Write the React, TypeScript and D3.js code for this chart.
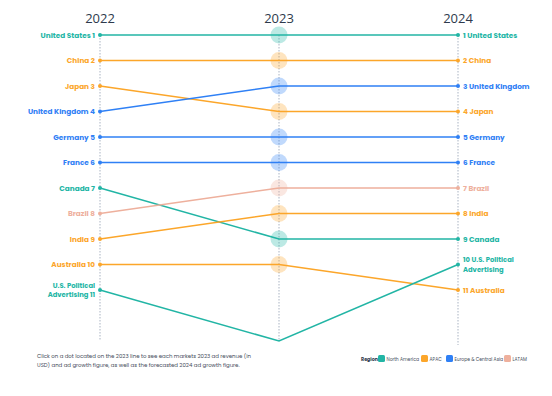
import React from "react";
import * as d3 from "d3";

const years = ["2022", "2023", "2024"];
const markets = ["United States", "China", "Japan", "United Kingdom", "Germany", "France", "Canada", "Brazil", "India", "Australia", "U.S. Political Advertising"];
const regionOf = ["North America", "APAC", "APAC", "Europe & Central Asia", "Europe & Central Asia", "Europe & Central Asia", "North America", "LATAM", "APAC", "APAC", "North America"];
const rank2022 = [1, 2, 3, 4, 5, 6, 7, 8, 9, 10, 11];
const rank2023 = [1, 2, 4, 3, 5, 6, 9, 7, 8, 10, 13];
const rank2024 = [1, 2, 4, 3, 5, 6, 9, 7, 8, 11, 10];
const regions = ["North America", "APAC", "Europe & Central Asia", "LATAM"];
const regionColors = ["#22b5a5", "#fca62a", "#2f80f5", "#eeb09d"];
const note = [
  "Click on a dot located on the 2023 line to see each markets 2023 ad revenue (in",
  "USD) and ad growth figure, as well as the forecasted 2024 ad growth figure.",
];

export default function App() {
  const W = 552, H = 396;
  const x = d3.scalePoint<string>().domain(years).range([100, 458]);
  const y = d3.scaleLinear().domain([1, 13]).range([35, 341]);
  const color = d3.scaleOrdinal<string, string>().domain(regions).range(regionColors);
  const line = d3.line<[number, number]>().x((d) => d[0]).y((d) => d[1]);
  const font = "Poppins, 'Open Sans', 'Noto Sans', sans-serif";

  const labelLeft = (i: number) => {
    const n = markets[i];
    if (n === "U.S. Political Advertising") return ["U.S. Political", "Advertising " + rank2022[i]];
    return [n + " " + rank2022[i]];
  };
  const labelRight = (i: number) => {
    const n = markets[i];
    if (n === "U.S. Political Advertising") return [rank2024[i] + " U.S. Political", "Advertising"];
    return [rank2024[i] + " " + n];
  };

  const legendX = [378, 421, 446, 504];
  const gap = 9.3;

  return (
    <svg width={W} height={H} style={{ position: "absolute", left: 0, top: 0 }} fontFamily={font}>
      <rect width={W} height={H} fill="#ffffff" />
      {years.map((yr) => (
        <g key={yr}>
          <line x1={x(yr)} x2={x(yr)} y1={y(1)} y2={yr === "2024" ? 345 : y(13)} stroke="#a9b3c2" strokeWidth={1} strokeDasharray="1.5,1.5" />
          <text x={x(yr)} y={23} textAnchor="middle" fontSize={13} fill="#2e3a4c" fontFamily="'Open Sans', sans-serif">{yr}</text>
        </g>
      ))}
      {markets.map((m, i) => {
        const c = color(regionOf[i]);
        const pts: [number, number][] = [
          [x("2022")!, y(rank2022[i])],
          [x("2023")!, y(rank2023[i])],
          [x("2024")!, y(rank2024[i])],
        ];
        return (
          <g key={m}>
            <path d={line(pts)!} fill="none" stroke={c} strokeWidth={1.5} />
          </g>
        );
      })}
      {markets.map((m, i) => {
        const c = color(regionOf[i]);
        const l = labelLeft(i);
        const r = labelRight(i);
        const y0 = y(rank2022[i]);
        const y2 = y(rank2024[i]);
        const base = (n: number, k: number) => (n === 1 ? 2.6 : 2.4 + (k - 0.5) * gap);
        const fs = (n: number) => (n === 1 ? 7.3 : 6.8);
        return (
          <g key={m + "l"} fontWeight={700} fill={c}>
            {rank2023[i] <= 11 && (
              <circle cx={x("2023")} cy={y(rank2023[i])} r={8.5} fill={c} opacity={0.3} />
            )}
            <circle cx={x("2022")} cy={y0} r={2} fill={c} />
            <circle cx={x("2024")} cy={y2} r={2} fill={c} />
            {l.map((t, k) => (
              <text key={"a" + k} x={95} y={y0 + base(l.length, k)} fontSize={fs(l.length)} textAnchor="end">{t}</text>
            ))}
            {r.map((t, k) => (
              <text key={"b" + k} x={463} y={y2 + base(r.length, k)} fontSize={fs(r.length)} textAnchor="start">{t}</text>
            ))}
          </g>
        );
      })}
      {note.map((t, k) => (
        <text key={k} x={37} y={358 + k * 8.5} fontSize={5.4} fill="#444c5a">{t}</text>
      ))}
      <text x={361} y={360.5} fontSize={4.8} fontWeight={700} fill="#2e3a4c">Region</text>
      {regions.map((r, k) => (
        <g key={r}>
          <rect x={legendX[k]} y={355} width={7} height={7} rx={1.5} fill={color(r)} />
          <text x={legendX[k] + 8.5} y={360.5} fontSize={4.5} fill="#444c5a">{r}</text>
        </g>
      ))}
    </svg>
  );
}
